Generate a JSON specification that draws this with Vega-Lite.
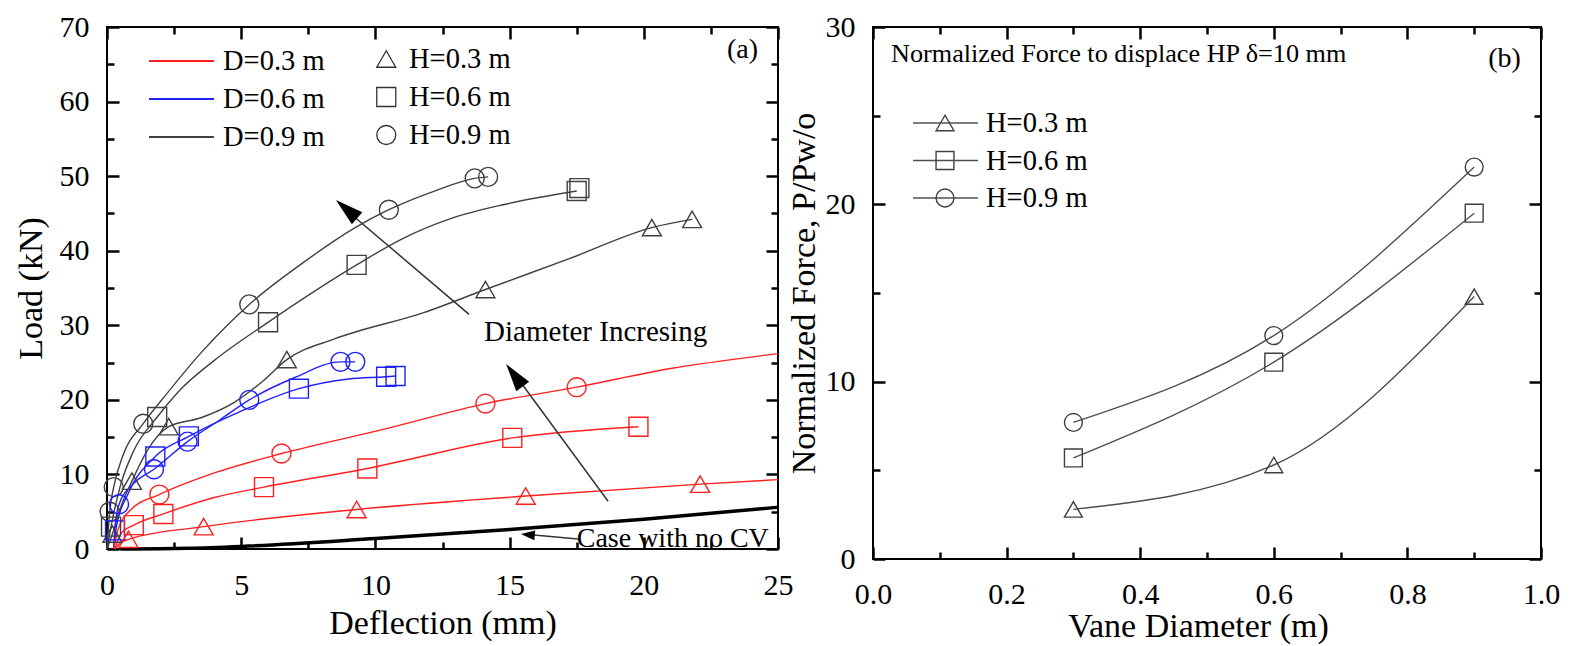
{
  "$schema": "https://vega.github.io/schema/vega-lite/v6.json",
  "padding": {"left": 13, "top": 11, "right": 5, "bottom": 5},
  "datasets": {
    "curvesA": [
      {"D": 0.9, "H": 0.9, "deflection": 0, "load": 0},
      {"D": 0.9, "H": 0.9, "deflection": 0.1, "load": 5.0},
      {"D": 0.9, "H": 0.9, "deflection": 0.25, "load": 8.3},
      {"D": 0.9, "H": 0.9, "deflection": 0.6, "load": 12.6},
      {"D": 0.9, "H": 0.9, "deflection": 1.35, "load": 16.8},
      {"D": 0.9, "H": 0.9, "deflection": 2.2, "load": 20.7},
      {"D": 0.9, "H": 0.9, "deflection": 3.5, "load": 26.3},
      {"D": 0.9, "H": 0.9, "deflection": 5.3, "load": 32.8},
      {"D": 0.9, "H": 0.9, "deflection": 7.27, "load": 38.3},
      {"D": 0.9, "H": 0.9, "deflection": 9.2, "load": 43.0},
      {"D": 0.9, "H": 0.9, "deflection": 10.5, "load": 45.5},
      {"D": 0.9, "H": 0.9, "deflection": 12.2, "load": 48.0},
      {"D": 0.9, "H": 0.9, "deflection": 13.7, "load": 49.7},
      {"D": 0.9, "H": 0.9, "deflection": 14.2, "load": 49.9},
      {"D": 0.9, "H": 0.6, "deflection": 0, "load": 0},
      {"D": 0.9, "H": 0.6, "deflection": 0.15, "load": 3.0},
      {"D": 0.9, "H": 0.6, "deflection": 0.5, "load": 8.5},
      {"D": 0.9, "H": 0.6, "deflection": 1.0, "load": 13.2},
      {"D": 0.9, "H": 0.6, "deflection": 1.87, "load": 17.7},
      {"D": 0.9, "H": 0.6, "deflection": 2.66, "load": 21.1},
      {"D": 0.9, "H": 0.6, "deflection": 4.0, "load": 25.3},
      {"D": 0.9, "H": 0.6, "deflection": 6.0, "load": 30.4},
      {"D": 0.9, "H": 0.6, "deflection": 9.3, "load": 38.1},
      {"D": 0.9, "H": 0.6, "deflection": 11.0, "load": 41.6},
      {"D": 0.9, "H": 0.6, "deflection": 12.8, "load": 44.3},
      {"D": 0.9, "H": 0.6, "deflection": 14.8, "load": 46.2},
      {"D": 0.9, "H": 0.6, "deflection": 17.5, "load": 48.0},
      {"D": 0.9, "H": 0.3, "deflection": 0, "load": 0},
      {"D": 0.9, "H": 0.3, "deflection": 0.2, "load": 2.0},
      {"D": 0.9, "H": 0.3, "deflection": 0.5, "load": 5.5},
      {"D": 0.9, "H": 0.3, "deflection": 0.93, "load": 9.1},
      {"D": 0.9, "H": 0.3, "deflection": 1.5, "load": 13.2},
      {"D": 0.9, "H": 0.3, "deflection": 2.3, "load": 16.4},
      {"D": 0.9, "H": 0.3, "deflection": 3.5, "load": 17.6},
      {"D": 0.9, "H": 0.3, "deflection": 4.76, "load": 19.7},
      {"D": 0.9, "H": 0.3, "deflection": 5.77, "load": 22.4},
      {"D": 0.9, "H": 0.3, "deflection": 6.7, "load": 25.4},
      {"D": 0.9, "H": 0.3, "deflection": 8.5, "load": 28.2},
      {"D": 0.9, "H": 0.3, "deflection": 11.8, "load": 31.7},
      {"D": 0.9, "H": 0.3, "deflection": 14.1, "load": 34.8},
      {"D": 0.9, "H": 0.3, "deflection": 17.2, "load": 38.9},
      {"D": 0.9, "H": 0.3, "deflection": 20.3, "load": 43.1},
      {"D": 0.9, "H": 0.3, "deflection": 21.8, "load": 44.2},
      {"D": 0.6, "H": 0.9, "deflection": 0.25, "load": 0},
      {"D": 0.6, "H": 0.9, "deflection": 0.3, "load": 3.0},
      {"D": 0.6, "H": 0.9, "deflection": 0.45, "load": 6.0},
      {"D": 0.6, "H": 0.9, "deflection": 1.0, "load": 8.8},
      {"D": 0.6, "H": 0.9, "deflection": 1.75, "load": 10.7},
      {"D": 0.6, "H": 0.9, "deflection": 3.0, "load": 14.4},
      {"D": 0.6, "H": 0.9, "deflection": 4.2, "load": 17.3},
      {"D": 0.6, "H": 0.9, "deflection": 5.3, "load": 20.0},
      {"D": 0.6, "H": 0.9, "deflection": 7.0, "load": 23.0},
      {"D": 0.6, "H": 0.9, "deflection": 8.7, "load": 25.1},
      {"D": 0.6, "H": 0.9, "deflection": 9.25, "load": 25.1},
      {"D": 0.6, "H": 0.6, "deflection": 0.25, "load": 0},
      {"D": 0.6, "H": 0.6, "deflection": 0.35, "load": 3.0},
      {"D": 0.6, "H": 0.6, "deflection": 0.8, "load": 7.5},
      {"D": 0.6, "H": 0.6, "deflection": 1.8, "load": 12.4},
      {"D": 0.6, "H": 0.6, "deflection": 3.05, "load": 15.1},
      {"D": 0.6, "H": 0.6, "deflection": 5.0, "load": 18.5},
      {"D": 0.6, "H": 0.6, "deflection": 7.15, "load": 21.5},
      {"D": 0.6, "H": 0.6, "deflection": 9.0, "load": 22.8},
      {"D": 0.6, "H": 0.6, "deflection": 10.4, "load": 23.1},
      {"D": 0.6, "H": 0.6, "deflection": 10.75, "load": 23.2},
      {"D": 0.3, "H": 0.9, "deflection": 0.25, "load": 0},
      {"D": 0.3, "H": 0.9, "deflection": 0.4, "load": 2.5},
      {"D": 0.3, "H": 0.9, "deflection": 0.9, "load": 5.3},
      {"D": 0.3, "H": 0.9, "deflection": 1.95, "load": 7.3},
      {"D": 0.3, "H": 0.9, "deflection": 4.0, "load": 10.2},
      {"D": 0.3, "H": 0.9, "deflection": 6.5, "load": 12.8},
      {"D": 0.3, "H": 0.9, "deflection": 10.26, "load": 16.0},
      {"D": 0.3, "H": 0.9, "deflection": 14.1, "load": 19.5},
      {"D": 0.3, "H": 0.9, "deflection": 17.5, "load": 21.7},
      {"D": 0.3, "H": 0.9, "deflection": 21.0, "load": 24.2},
      {"D": 0.3, "H": 0.9, "deflection": 25.0, "load": 26.2},
      {"D": 0.3, "H": 0.6, "deflection": 0.3, "load": 0},
      {"D": 0.3, "H": 0.6, "deflection": 0.5, "load": 2.0},
      {"D": 0.3, "H": 0.6, "deflection": 1.0, "load": 3.2},
      {"D": 0.3, "H": 0.6, "deflection": 2.1, "load": 4.7},
      {"D": 0.3, "H": 0.6, "deflection": 4.0, "load": 6.9},
      {"D": 0.3, "H": 0.6, "deflection": 5.85, "load": 8.3},
      {"D": 0.3, "H": 0.6, "deflection": 9.7, "load": 10.8},
      {"D": 0.3, "H": 0.6, "deflection": 15.1, "load": 14.9},
      {"D": 0.3, "H": 0.6, "deflection": 19.8, "load": 16.4},
      {"D": 0.3, "H": 0.3, "deflection": 0.3, "load": 0},
      {"D": 0.3, "H": 0.3, "deflection": 0.5, "load": 0.8},
      {"D": 0.3, "H": 0.3, "deflection": 0.8, "load": 1.3},
      {"D": 0.3, "H": 0.3, "deflection": 3.6, "load": 3.0},
      {"D": 0.3, "H": 0.3, "deflection": 9.3, "load": 5.3},
      {"D": 0.3, "H": 0.3, "deflection": 15.6, "load": 7.1},
      {"D": 0.3, "H": 0.3, "deflection": 22.1, "load": 8.7},
      {"D": 0.3, "H": 0.3, "deflection": 25.0, "load": 9.3}
    ],
    "markersA": [
      {"D": 0.9, "H": 0.9, "deflection": 0.1, "load": 5.0},
      {"D": 0.9, "H": 0.9, "deflection": 0.25, "load": 8.3},
      {"D": 0.9, "H": 0.9, "deflection": 1.35, "load": 16.8},
      {"D": 0.9, "H": 0.9, "deflection": 5.3, "load": 32.8},
      {"D": 0.9, "H": 0.9, "deflection": 10.5, "load": 45.5},
      {"D": 0.9, "H": 0.9, "deflection": 13.7, "load": 49.7},
      {"D": 0.9, "H": 0.9, "deflection": 14.2, "load": 49.9},
      {"D": 0.9, "H": 0.6, "deflection": 0.15, "load": 3.0},
      {"D": 0.9, "H": 0.6, "deflection": 1.87, "load": 17.7},
      {"D": 0.9, "H": 0.6, "deflection": 6.0, "load": 30.4},
      {"D": 0.9, "H": 0.6, "deflection": 9.3, "load": 38.1},
      {"D": 0.9, "H": 0.6, "deflection": 17.5, "load": 48.0},
      {"D": 0.9, "H": 0.6, "deflection": 17.6, "load": 48.4},
      {"D": 0.9, "H": 0.3, "deflection": 0.2, "load": 2.0},
      {"D": 0.9, "H": 0.3, "deflection": 0.93, "load": 9.1},
      {"D": 0.9, "H": 0.3, "deflection": 2.3, "load": 16.4},
      {"D": 0.9, "H": 0.3, "deflection": 6.7, "load": 25.4},
      {"D": 0.9, "H": 0.3, "deflection": 14.1, "load": 34.8},
      {"D": 0.9, "H": 0.3, "deflection": 20.3, "load": 43.1},
      {"D": 0.9, "H": 0.3, "deflection": 21.8, "load": 44.2},
      {"D": 0.6, "H": 0.9, "deflection": 0.45, "load": 6.0},
      {"D": 0.6, "H": 0.9, "deflection": 1.75, "load": 10.7},
      {"D": 0.6, "H": 0.9, "deflection": 3.0, "load": 14.4},
      {"D": 0.6, "H": 0.9, "deflection": 5.3, "load": 20.0},
      {"D": 0.6, "H": 0.9, "deflection": 8.7, "load": 25.1},
      {"D": 0.6, "H": 0.9, "deflection": 9.25, "load": 25.1},
      {"D": 0.6, "H": 0.6, "deflection": 0.3, "load": 2.5},
      {"D": 0.6, "H": 0.6, "deflection": 1.8, "load": 12.4},
      {"D": 0.6, "H": 0.6, "deflection": 3.05, "load": 15.1},
      {"D": 0.6, "H": 0.6, "deflection": 7.15, "load": 21.5},
      {"D": 0.6, "H": 0.6, "deflection": 10.4, "load": 23.1},
      {"D": 0.6, "H": 0.6, "deflection": 10.75, "load": 23.2},
      {"D": 0.3, "H": 0.9, "deflection": 1.95, "load": 7.3},
      {"D": 0.3, "H": 0.9, "deflection": 6.5, "load": 12.8},
      {"D": 0.3, "H": 0.9, "deflection": 14.1, "load": 19.5},
      {"D": 0.3, "H": 0.9, "deflection": 17.5, "load": 21.7},
      {"D": 0.3, "H": 0.6, "deflection": 1.0, "load": 3.2},
      {"D": 0.3, "H": 0.6, "deflection": 2.1, "load": 4.7},
      {"D": 0.3, "H": 0.6, "deflection": 5.85, "load": 8.3},
      {"D": 0.3, "H": 0.6, "deflection": 9.7, "load": 10.8},
      {"D": 0.3, "H": 0.6, "deflection": 15.1, "load": 14.9},
      {"D": 0.3, "H": 0.6, "deflection": 19.8, "load": 16.4},
      {"D": 0.3, "H": 0.3, "deflection": 0.8, "load": 1.3},
      {"D": 0.3, "H": 0.3, "deflection": 3.6, "load": 3.0},
      {"D": 0.3, "H": 0.3, "deflection": 9.3, "load": 5.3},
      {"D": 0.3, "H": 0.3, "deflection": 15.6, "load": 7.1},
      {"D": 0.3, "H": 0.3, "deflection": 22.1, "load": 8.7}
    ],
    "nocv": [
      {"deflection": 0.5, "load": 0},
      {"deflection": 3, "load": 0.1},
      {"deflection": 5, "load": 0.35},
      {"deflection": 10, "load": 1.4},
      {"deflection": 15, "load": 2.6},
      {"deflection": 20, "load": 4.0},
      {"deflection": 25, "load": 5.6}
    ],
    "norm": [
      {"H": 0.3, "diameter": 0.3, "force": 2.8},
      {"H": 0.3, "diameter": 0.6, "force": 5.3},
      {"H": 0.3, "diameter": 0.9, "force": 14.8},
      {"H": 0.6, "diameter": 0.3, "force": 5.7},
      {"H": 0.6, "diameter": 0.6, "force": 11.1},
      {"H": 0.6, "diameter": 0.9, "force": 19.5},
      {"H": 0.9, "diameter": 0.3, "force": 7.7},
      {"H": 0.9, "diameter": 0.6, "force": 12.6},
      {"H": 0.9, "diameter": 0.9, "force": 22.1}
    ]
  },
  "hconcat": [
    {
      "width": 671,
      "height": 522,
      "layer": [
        {
          "data": {"name": "nocv"},
          "mark": {"type": "line", "color": "black", "strokeWidth": 3.5, "interpolate": "monotone"},
          "encoding": {
            "x": {"field": "deflection", "type": "quantitative", "scale": {"domain": [0, 25], "nice": false, "zero": false},
              "axis": {"values": [0, 2.5, 5, 7.5, 10, 12.5, 15, 17.5, 20, 22.5, 25],
                "tickSize": {"condition": {"test": "datum.value % 5 == 0", "value": -12}, "value": -7},
                "labelExpr": "datum.value % 5 == 0 ? datum.label : ''",
                "labelPadding": 33, "title": "Deflection (mm)", "titleBaseline": "middle", "titleY": 74}},
            "y": {"field": "load", "type": "quantitative", "scale": {"domain": [0, 70], "nice": false, "zero": false},
              "axis": {"values": [0, 5, 10, 15, 20, 25, 30, 35, 40, 45, 50, 55, 60, 65, 70],
                "tickSize": {"condition": {"test": "datum.value % 10 == 0", "value": -12}, "value": -7},
                "labelExpr": "datum.value % 10 == 0 ? datum.label : ''",
                "labelPadding": 30, "title": "Load (kN)", "titleBaseline": "middle", "titleX": -76, "titleY": 261}}
          }
        },
        {
          "data": {"name": "curvesA"},
          "mark": {"type": "line", "strokeWidth": 1.4, "interpolate": "monotone"},
          "encoding": {
            "x": {"field": "deflection", "type": "quantitative",
              "axis": {"orient": "top", "values": [0, 2.5, 5, 7.5, 10, 12.5, 15, 17.5, 20, 22.5, 25],
                "tickSize": {"condition": {"test": "datum.value % 5 == 0", "value": -12}, "value": -7},
                "labels": false, "title": null}},
            "y": {"field": "load", "type": "quantitative",
              "axis": {"orient": "right", "values": [0, 5, 10, 15, 20, 25, 30, 35, 40, 45, 50, 55, 60, 65, 70],
                "tickSize": {"condition": {"test": "datum.value % 10 == 0", "value": -12}, "value": -7},
                "labels": false, "title": null}},
            "color": {"field": "D", "type": "nominal",
              "scale": {"domain": [0.3, 0.6, 0.9], "range": ["#ff1f1f", "#1f1fff", "#404040"]},
              "legend": {"orient": "none", "legendX": 41, "legendY": 16, "title": null, "symbolType": "stroke",
                "symbolSize": 4225, "symbolStrokeWidth": 2, "labelFontSize": 28.5, "labelColor": "black",
                "labelOffset": 8, "clipHeight": 36, "rowPadding": 2, "padding": 0,
                "labelExpr": "'D=' + datum.label + ' m'"}},
            "detail": {"field": "H", "type": "nominal"}
          }
        },
        {
          "data": {"name": "markersA"},
          "mark": {"type": "point", "filled": false, "size": 360, "strokeWidth": 1.4, "opacity": 1},
          "encoding": {
            "x": {"field": "deflection", "type": "quantitative", "axis": null},
            "y": {"field": "load", "type": "quantitative", "axis": null},
            "color": {"field": "D", "type": "nominal", "legend": null},
            "shape": {"field": "H", "type": "nominal", "scale": {"range": ["triangle-up", "square", "circle"]},
              "legend": {"orient": "none", "legendX": 265, "legendY": 14, "title": null, "symbolSize": 361,
                "symbolStrokeColor": "#333333", "symbolFillColor": "transparent", "symbolStrokeWidth": 1.3,
                "labelFontSize": 28.5, "labelColor": "black", "labelOffset": 8.5, "clipHeight": 36,
                "rowPadding": 2, "padding": 0, "labelExpr": "'H=' + datum.label + ' m'"}}
          }
        },
        {
          "data": {"values": [{}]},
          "mark": {"type": "rule", "color": "#333333", "strokeWidth": 1.5},
          "encoding": {"x": {"datum": 18.67, "type": "quantitative", "axis": null}, "y": {"datum": 6.4, "type": "quantitative", "axis": null},
            "x2": {"datum": 15.2}, "y2": {"datum": 23.4}}
        },
        {
          "data": {"values": [{}]},
          "mark": {"type": "rule", "color": "#333333", "strokeWidth": 1.5},
          "encoding": {"x": {"datum": 13.49, "type": "quantitative", "axis": null}, "y": {"datum": 31.47, "type": "quantitative", "axis": null},
            "x2": {"datum": 8.9}, "y2": {"datum": 45.5}}
        },
        {
          "data": {"values": [{}]},
          "mark": {"type": "rule", "color": "#333333", "strokeWidth": 1.5},
          "encoding": {"x": {"datum": 17.55, "type": "quantitative", "axis": null}, "y": {"datum": 1.33, "type": "quantitative", "axis": null},
            "x2": {"datum": 15.6}, "y2": {"datum": 1.97}}
        },
        {
          "data": {"values": [{}]},
          "mark": {"type": "point", "shape": "M0,0L-0.57,2L0.57,2Z", "filled": true, "color": "black", "opacity": 1, "size": 784, "angle": 323.6},
          "encoding": {"x": {"datum": 14.87, "type": "quantitative", "axis": null}, "y": {"datum": 24.8, "type": "quantitative", "axis": null}}
        },
        {
          "data": {"values": [{}]},
          "mark": {"type": "point", "shape": "M0,0L-0.57,2L0.57,2Z", "filled": true, "color": "black", "opacity": 1, "size": 784, "angle": 310.9},
          "encoding": {"x": {"datum": 8.53, "type": "quantitative", "axis": null}, "y": {"datum": 46.8, "type": "quantitative", "axis": null}}
        },
        {
          "data": {"values": [{}]},
          "mark": {"type": "point", "shape": "M0,0L-0.7,2L0.7,2Z", "filled": true, "color": "black", "opacity": 1, "size": 196, "angle": 275},
          "encoding": {"x": {"datum": 15.42, "type": "quantitative", "axis": null}, "y": {"datum": 2.0, "type": "quantitative", "axis": null}}
        },
        {
          "data": {"values": [{}]},
          "mark": {"type": "text", "text": "(a)", "align": "left", "baseline": "middle", "fontSize": 28, "color": "black"},
          "encoding": {"x": {"datum": 23.1, "type": "quantitative", "axis": null}, "y": {"datum": 66.9, "type": "quantitative", "axis": null}}
        },
        {
          "data": {"values": [{}]},
          "mark": {"type": "text", "text": "Diameter Incresing", "align": "left", "baseline": "middle", "fontSize": 29, "color": "black"},
          "encoding": {"x": {"datum": 14.05, "type": "quantitative", "axis": null}, "y": {"datum": 29.1, "type": "quantitative", "axis": null}}
        },
        {
          "data": {"values": [{}]},
          "mark": {"type": "text", "text": "Case with no CV", "align": "left", "baseline": "middle", "fontSize": 28, "color": "black"},
          "encoding": {"x": {"datum": 17.5, "type": "quantitative", "axis": null}, "y": {"datum": 1.4, "type": "quantitative", "axis": null}}
        }
      ],
      "resolve": {"axis": {"x": "independent", "y": "independent"}}
    },
    {
      "width": 668,
      "height": 532,
      "layer": [
        {
          "data": {"name": "norm"},
          "mark": {"type": "line", "strokeWidth": 1.4, "interpolate": "monotone"},
          "encoding": {
            "x": {"field": "diameter", "type": "quantitative", "scale": {"domain": [0, 1], "nice": false},
              "axis": {"values": [0, 0.1, 0.2, 0.3, 0.4, 0.5, 0.6, 0.7, 0.8, 0.9, 1.0],
                "tickSize": {"condition": {"test": "round(datum.value*10) % 2 == 0", "value": -12}, "value": -7},
                "labelExpr": "round(datum.value*10) % 2 == 0 ? format(datum.value, '.1f') : ''",
                "labelPadding": 32, "title": "Vane Diameter (m)", "titleBaseline": "middle", "titleX": 325, "titleY": 67}},
            "y": {"field": "force", "type": "quantitative", "scale": {"domain": [0, 30], "nice": false},
              "axis": {"values": [0, 5, 10, 15, 20, 25, 30],
                "tickSize": {"condition": {"test": "datum.value % 10 == 0", "value": -12}, "value": -7},
                "labelExpr": "datum.value % 10 == 0 ? datum.label : ''",
                "labelPadding": 30, "title": "Normalized Force, P/Pw/o", "titleBaseline": "middle", "titleX": -69, "titleY": 266}},
            "color": {"field": "H", "type": "nominal",
              "scale": {"domain": [0.3, 0.6, 0.9], "range": ["#505050", "#505050", "#505050"]},
              "legend": {"orient": "none", "legendX": 39, "legendY": 78, "title": null, "symbolType": "stroke",
                "symbolSize": 4225, "symbolStrokeWidth": 1.4, "labelFontSize": 28.5, "labelColor": "black",
                "labelOffset": 7, "clipHeight": 36, "rowPadding": 1.5, "padding": 0,
                "labelExpr": "'H=' + datum.label + ' m'"}}
          }
        },
        {
          "data": {"name": "norm"},
          "mark": {"type": "point", "filled": false, "size": 320, "strokeWidth": 1.4, "color": "#404040", "opacity": 1},
          "encoding": {
            "x": {"field": "diameter", "type": "quantitative",
              "axis": {"orient": "top", "values": [0, 0.1, 0.2, 0.3, 0.4, 0.5, 0.6, 0.7, 0.8, 0.9, 1.0],
                "tickSize": {"condition": {"test": "round(datum.value*10) % 2 == 0", "value": -12}, "value": -7},
                "labels": false, "title": null}},
            "y": {"field": "force", "type": "quantitative",
              "axis": {"orient": "right", "values": [0, 5, 10, 15, 20, 25, 30],
                "tickSize": {"condition": {"test": "datum.value % 10 == 0", "value": -12}, "value": -7},
                "labels": false, "title": null}},
            "shape": {"field": "H", "type": "nominal", "scale": {"range": ["triangle-up", "square", "circle"]},
              "legend": {"orient": "none", "legendX": 62, "legendY": 78, "title": null, "symbolSize": 320,
                "symbolStrokeColor": "#404040", "symbolFillColor": "transparent", "symbolStrokeWidth": 1.4,
                "labelFontSize": 1, "labelOffset": 0, "clipHeight": 36, "rowPadding": 1.5, "padding": 0,
                "labelExpr": "''"}}
          }
        },
        {
          "data": {"values": [{}]},
          "mark": {"type": "text", "text": "(b)", "align": "left", "baseline": "middle", "fontSize": 28, "color": "black"},
          "encoding": {"x": {"datum": 0.921, "type": "quantitative", "axis": null}, "y": {"datum": 28.2, "type": "quantitative", "axis": null}}
        },
        {
          "data": {"values": [{}]},
          "mark": {"type": "text", "text": "Normalized Force to displace HP δ=10 mm", "align": "left", "baseline": "middle", "fontSize": 26.2, "color": "black"},
          "encoding": {"x": {"datum": 0.027, "type": "quantitative", "axis": null}, "y": {"datum": 28.5, "type": "quantitative", "axis": null}}
        }
      ],
      "resolve": {"axis": {"x": "independent", "y": "independent"}}
    }
  ],
  "spacing": 95,
  "bounds": "flush",
  "resolve": {"scale": {"color": "independent", "shape": "independent"}, "legend": {"color": "independent", "shape": "independent"}},
  "config": {
    "font": "Liberation Serif",
    "view": {"stroke": "black", "strokeWidth": 2},
    "axis": {"grid": false, "domain": false, "tickColor": "black", "tickWidth": 2.5, "labelColor": "black", "titleColor": "black",
      "labelFont": "Liberation Serif", "titleFont": "Liberation Serif", "labelFontSize": 30, "titleFontSize": 34,
      "titleFontWeight": "normal", "labelOverlap": false, "labelFlush": false},
    "legend": {"labelFont": "Liberation Serif"},
    "text": {"font": "Liberation Serif", "color": "black"}
  }
}
